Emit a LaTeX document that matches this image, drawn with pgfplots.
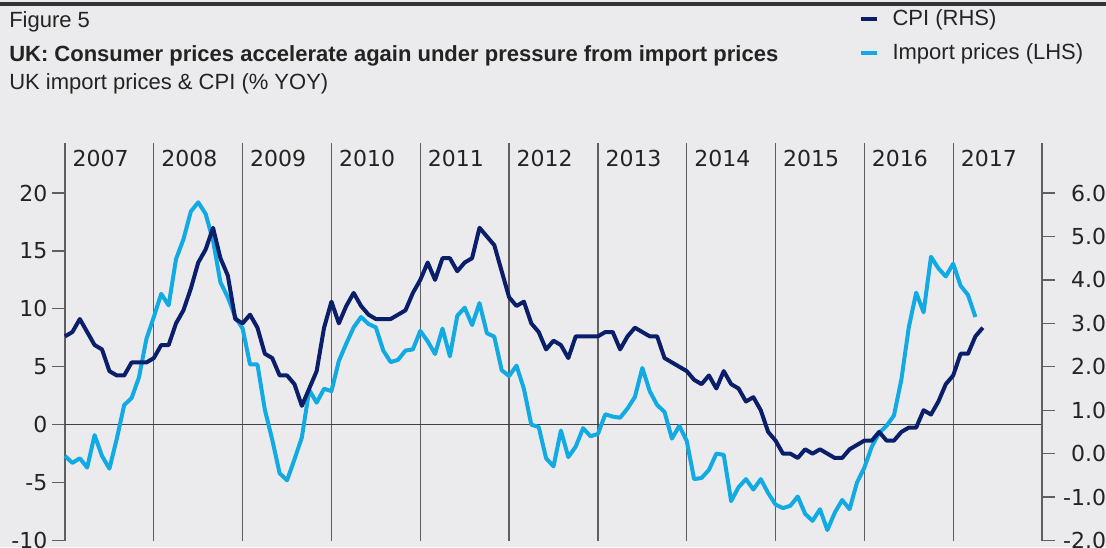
\documentclass[border=0pt]{standalone}
\usepackage{pgfplots}
\pgfplotsset{compat=1.18}
\usepackage{fontspec}
\setmainfont{Liberation Sans}
\newfontfamily\tickfont{DejaVu Sans}
\definecolor{bg}{RGB}{235,235,237}
\definecolor{navy}{RGB}{10,30,105}
\definecolor{sky}{RGB}{18,170,226}
\definecolor{gridc}{RGB}{95,95,95}
\definecolor{txt}{RGB}{35,35,35}

\begin{document}
\begin{tikzpicture}
\useasboundingbox[fill=bg] (0pt,0pt) rectangle (829.5pt,-410.25pt);
\begin{scope}[x=0.75pt,y=-0.75pt]
\fill[black!80] (0,2) rectangle (1106,5.5);
\node[anchor=base west, inner sep=0, text=txt] at (9,27) {\fontsize{16.5}{20}\selectfont Figure 5};
\node[anchor=base west, inner sep=0, text=txt] at (9,61) {\fontsize{16.5}{20}\selectfont\bfseries UK: Consumer prices accelerate again under pressure from import prices};
\node[anchor=base west, inner sep=0, text=txt] at (9,89) {\fontsize{16.5}{20}\selectfont UK import prices \& CPI (\% YOY)};
\end{scope}

% Left axis: import prices
\begin{axis}[
  at={(48.75pt,-405.375pt)}, anchor=south west,
  scale only axis, width=732.75pt, height=298.125pt,
  xmin=0, xmax=132, ymin=-10, ymax=24.32,
  axis x line=none, axis y line*=left,
  xtick=\empty,
  ytick={-10,-5,0,5,10,15,20},
  yticklabels={-10,-5,0,5,10,15,20},
  tick align=outside, major tick length=9.75pt,
  y axis line style={draw=gridc, line width=0.9pt},
  every tick/.style={gridc, line width=0.9pt},
  yticklabel style={font=\tickfont\fontsize{16.5}{18}\selectfont, text=txt},
  clip=false,
]
\pgfplotsinvokeforeach{12,24,36,48,60,72,84,96,108,120}{
  \draw[gridc, line width=0.9pt] (axis cs:#1,-10) -- (axis cs:#1,24.32);
}
\draw[black!75, line width=1pt] (axis cs:0,0) -- (axis cs:132,0);
\pgfplotsinvokeforeach{0,1,2,3,4,5,6,7,8,9,10}{
  \node[anchor=base west, inner sep=0, xshift=5.5pt, text=txt, font=\tickfont\fontsize{16.5}{18}\selectfont] at (axis cs:#1*12,22.33) {\pgfmathparse{int(2007+#1)}\pgfmathresult};
}
\addplot[sky, line width=3pt, line join=round, mark=none] coordinates {
(0,-2.7)(1,-3.3)(2,-2.9)(3,-3.7)(4,-0.9)(5,-2.7)(6,-3.8)(7,-1.2)(8,1.7)(9,2.3)(10,4.1)(11,7.4)
(12,9.3)(13,11.3)(14,10.3)(15,14.3)(16,16.0)(17,18.4)(18,19.2)(19,18.2)(20,15.9)(21,12.3)(22,11.0)(23,9.3)
(24,8.3)(25,5.2)(26,5.2)(27,1.3)(28,-1.3)(29,-4.2)(30,-4.8)(31,-3.0)(32,-1.1)(33,3.0)(34,1.9)(35,3.1)
(36,2.9)(37,5.5)(38,7.0)(39,8.4)(40,9.3)(41,8.7)(42,8.4)(43,6.4)(44,5.4)(45,5.6)(46,6.4)(47,6.5)
(48,8.1)(49,7.2)(50,6.1)(51,8.3)(52,5.9)(53,9.4)(54,10.1)(55,8.6)(56,10.5)(57,7.9)(58,7.6)(59,4.7)
(60,4.2)(61,5.1)(62,3.1)(63,0.0)(64,-0.2)(65,-2.9)(66,-3.6)(67,-0.5)(68,-2.8)(69,-1.9)(70,-0.3)(71,-1.0)
(72,-0.8)(73,0.9)(74,0.7)(75,0.6)(76,1.4)(77,2.4)(78,4.9)(79,2.9)(80,1.7)(81,1.1)(82,-1.2)(83,-0.1)
(84,-1.4)(85,-4.7)(86,-4.6)(87,-3.9)(88,-2.5)(89,-2.6)(90,-6.6)(91,-5.4)(92,-4.7)(93,-5.6)(94,-4.7)(95,-5.9)
(96,-6.9)(97,-7.2)(98,-7.0)(99,-6.2)(100,-7.7)(101,-8.3)(102,-7.3)(103,-9.1)(104,-7.6)(105,-6.5)(106,-7.3)(107,-5.0)
(108,-3.7)(109,-1.9)(110,-0.7)(111,-0.1)(112,0.8)(113,3.9)(114,8.4)(115,11.4)(116,9.7)(117,14.5)(118,13.5)(119,12.8)
(120,13.9)(121,12.0)(122,11.2)(123,9.3)
};
\end{axis}

% Right axis: CPI
\begin{axis}[
  at={(48.75pt,-405.375pt)}, anchor=south west,
  scale only axis, width=732.75pt, height=298.125pt,
  xmin=0, xmax=132, ymin=-2, ymax=7.152,
  axis x line=none, axis y line*=right,
  xtick=\empty,
  ytick={-2,-1,0,1,2,3,4,5,6},
  yticklabels={-2.0,-1.0,0.0,1.0,2.0,3.0,4.0,5.0,6.0},
  tick align=outside, major tick length=9.75pt,
  y axis line style={draw=gridc, line width=0.9pt},
  every tick/.style={gridc, line width=0.9pt},
  yticklabel style={font=\tickfont\fontsize{16.5}{18}\selectfont, text=txt, anchor=east, inner sep=0pt, xshift=38.5pt},
  clip=false,
  legend style={at={(0.8126,1.3375)}, anchor=north west, draw=none, fill=none,
    inner sep=0pt, row sep=10pt, column sep=10pt,
    font=\fontsize{16.5}{20}\selectfont, text=txt,
    nodes={inner sep=0pt, text height=12pt, text depth=3.5pt}},
  legend cell align=left,
  legend image code/.code={\draw[#1, line width=3pt] (0pt,0pt) -- (12pt,0pt);},
]
\addplot[navy, line width=3pt, line join=round, mark=none] coordinates {
(0,2.7)(1,2.8)(2,3.1)(3,2.8)(4,2.5)(5,2.4)(6,1.9)(7,1.8)(8,1.8)(9,2.1)(10,2.1)(11,2.1)
(12,2.2)(13,2.5)(14,2.5)(15,3.0)(16,3.3)(17,3.8)(18,4.4)(19,4.7)(20,5.2)(21,4.5)(22,4.1)(23,3.1)
(24,3.0)(25,3.2)(26,2.9)(27,2.3)(28,2.2)(29,1.8)(30,1.8)(31,1.6)(32,1.1)(33,1.5)(34,1.9)(35,2.9)
(36,3.5)(37,3.0)(38,3.4)(39,3.7)(40,3.4)(41,3.2)(42,3.1)(43,3.1)(44,3.1)(45,3.2)(46,3.3)(47,3.7)
(48,4.0)(49,4.4)(50,4.0)(51,4.5)(52,4.5)(53,4.2)(54,4.4)(55,4.5)(56,5.2)(57,5.0)(58,4.8)(59,4.2)
(60,3.6)(61,3.4)(62,3.5)(63,3.0)(64,2.8)(65,2.4)(66,2.6)(67,2.5)(68,2.2)(69,2.7)(70,2.7)(71,2.7)
(72,2.7)(73,2.8)(74,2.8)(75,2.4)(76,2.7)(77,2.9)(78,2.8)(79,2.7)(80,2.7)(81,2.2)(82,2.1)(83,2.0)
(84,1.9)(85,1.7)(86,1.6)(87,1.8)(88,1.5)(89,1.9)(90,1.6)(91,1.5)(92,1.2)(93,1.3)(94,1.0)(95,0.5)
(96,0.3)(97,0.0)(98,0.0)(99,-0.1)(100,0.1)(101,0.0)(102,0.1)(103,0.0)(104,-0.1)(105,-0.1)(106,0.1)(107,0.2)
(108,0.3)(109,0.3)(110,0.5)(111,0.3)(112,0.3)(113,0.5)(114,0.6)(115,0.6)(116,1.0)(117,0.9)(118,1.2)(119,1.6)
(120,1.8)(121,2.3)(122,2.3)(123,2.7)(124,2.9)
};
\addlegendentry{CPI (RHS)}
\addlegendimage{sky, line width=3pt}
\addlegendentry{Import prices (LHS)}
\end{axis}
\end{tikzpicture}
\end{document}
